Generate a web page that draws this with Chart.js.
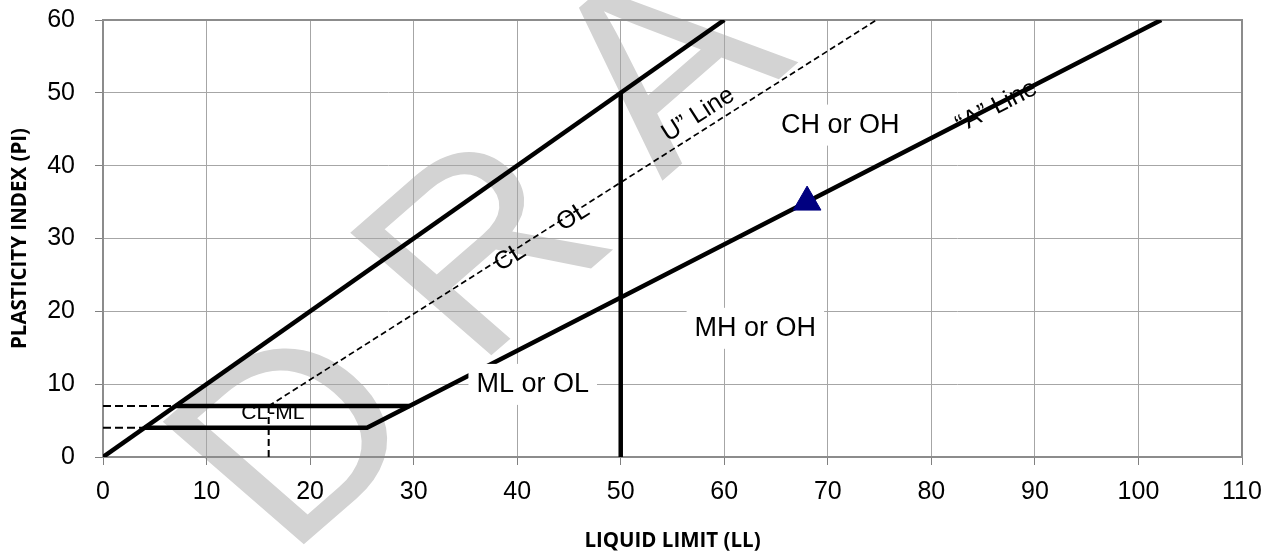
<!DOCTYPE html>
<html>
<head>
<meta charset="utf-8">
<script src="https://cdn.jsdelivr.net/npm/chart.js@4.4.1/dist/chart.umd.min.js"></script>
<style>
  html, body { margin: 0; padding: 0; background: #fff; }
  #wrap { width: 1275px; height: 556px; }
</style>
</head>
<body>
<div id="wrap"><canvas id="chart" width="1275" height="556"></canvas></div>
<script>
// Axis ticks
const xTicks = [0, 10, 20, 30, 40, 50, 60, 70, 80, 90, 100, 110];
const yTicks = [0, 10, 20, 30, 40, 50, 60];

// Boundary lines of the plasticity chart (LL, PI)
const diagonalLL = [0, 60];
const diagonalPI = [0, 60];

const aLineLL = [4, 25.5, 29.6, 102.2];   // PI=4 floor then "A" line
const aLinePI = [4, 4, 7, 60];

const topBandLL = [7, 29.6];              // PI=7 band limit
const topBandPI = [7, 7];

const ll50LL = [50, 50];
const ll50PI = [0, 50];

const uLineLL = [16, 74.7];
const uLinePI = [7, 60];

// dashed guides
const guide7LL = [0, 7];
const guide7PI = [7, 7];
const guide4LL = [0, 4];
const guide4PI = [4, 4];
const guide16LL = [16, 16];
const guide16PI = [0, 7];

// sample point
const sampleLL = [68];
const samplePI = [35];

// zone labels (boxed)
const zoneNames = ['CH or OH', 'MH or OH', 'ML or OL'];
const zoneLL = [71.2, 63.0, 41.5];
const zonePI = [45.5, 17.6, 9.9];

// labels running along a line
const lineLabels = ['U\u201D Line', 'CL', 'OL', '\u201CA\u201D Line'];
const lineLabelLL = [57.5, 39.3, 45.4, 86.3];
const lineLabelPI = [47.0, 27.4, 33.0, 48.1];
const lineLabelOn = ['u', 'u', 'u', 'a'];

const watermark = 'DRAFT';

const pts = (xs, ys) => xs.map((x, i) => ({ x, y: ys[i] }));

const solid = (label, xs, ys) => ({
    label, data: pts(xs, ys), showLine: true, borderColor: '#000', borderWidth: 4.5,
    pointRadius: 0, order: 2, borderCapStyle: 'butt', borderJoinStyle: 'miter'
});
const dashed = (label, xs, ys, dash, w) => ({
    label, data: pts(xs, ys), showLine: true, borderColor: '#000', borderWidth: w,
    borderDash: dash, pointRadius: 0, order: 2
});

const angleOf = (chart, xs, ys, i) => {
    const sx = chart.scales.x, sy = chart.scales.y;
    const dx = sx.getPixelForValue(xs[i + 1]) - sx.getPixelForValue(xs[i]);
    const dy = sy.getPixelForValue(ys[i + 1]) - sy.getPixelForValue(ys[i]);
    return Math.atan2(dy, dx);
};

// Watermark behind everything (rotated, slightly squashed, spaced letters)
const watermarkPlugin = {
    id: 'watermark',
    beforeDraw(chart) {
        const ctx = chart.ctx;
        ctx.save();
        ctx.fillStyle = '#d3d3d3';
        ctx.font = '290px "Liberation Sans", Arial, sans-serif';
        ctx.textAlign = 'left';
        ctx.textBaseline = 'alphabetic';
        let ox = 287, oy = 559;
        for (const ch of watermark) {
            ctx.save();
            ctx.translate(ox, oy);
            ctx.scale(1, 0.87);
            ctx.rotate(-Math.PI / 4);
            ctx.fillText(ch, 0, 0);
            ctx.restore();
            ox += 187.5;
            oy -= 189;
        }
        ctx.restore();
    }
};

// Plot frame and small CL-ML label under the lines
const framePlugin = {
    id: 'frame',
    beforeDatasetsDraw(chart) {
        const { ctx, chartArea: a } = chart;
        const sx = chart.scales.x, sy = chart.scales.y;
        ctx.save();
        ctx.strokeStyle = '#8c8c8c';
        ctx.lineWidth = 2;
        ctx.strokeRect(a.left, a.top, a.right - a.left, a.bottom - a.top);
        ctx.fillStyle = '#000';
        ctx.font = '21px "Liberation Sans", Arial, sans-serif';
        ctx.textAlign = 'center';
        ctx.textBaseline = 'middle';
        ctx.fillText('CL-ML', sx.getPixelForValue(16.4), sy.getPixelForValue(6.0));
        ctx.restore();
    }
};

// Zone labels and line labels
const labelPlugin = {
    id: 'labels',
    afterDatasetsDraw(chart) {
        const ctx = chart.ctx;
        const sx = chart.scales.x, sy = chart.scales.y;
        ctx.save();
        ctx.textAlign = 'center';
        ctx.textBaseline = 'middle';
        ctx.font = '27px "Liberation Sans", Arial, sans-serif';
        zoneNames.forEach((t, i) => {
            const px = sx.getPixelForValue(zoneLL[i]);
            const py = sy.getPixelForValue(zonePI[i]);
            const w = ctx.measureText(t).width;
            ctx.fillStyle = '#fff';
            ctx.fillRect(px - w / 2 - 8, py - 21, w + 16, 41);
            ctx.fillStyle = '#000';
            ctx.fillText(t, px, py);
        });
        ctx.font = '25px "Liberation Sans", Arial, sans-serif';
        const uAng = angleOf(chart, uLineLL, uLinePI, 0);
        const aAng = angleOf(chart, aLineLL, aLinePI, 2);
        lineLabels.forEach((t, i) => {
            ctx.save();
            ctx.translate(sx.getPixelForValue(lineLabelLL[i]), sy.getPixelForValue(lineLabelPI[i]));
            ctx.rotate(lineLabelOn[i] === 'u' ? uAng : aAng);
            ctx.fillStyle = '#000';
            ctx.fillText(t, 0, 0);
            ctx.restore();
        });
        ctx.restore();
    }
};

const tickFont = { family: '"Liberation Sans", Arial, sans-serif', size: 25 };
const titleFont = { family: '"Open Sans", sans-serif', size: 20.5, weight: 'bold' };

new Chart(document.getElementById('chart'), {
    type: 'scatter',
    data: {
        datasets: [
            {
                label: 'Sample', data: pts(sampleLL, samplePI), pointStyle: 'triangle',
                pointRadius: 16, backgroundColor: '#000080', borderColor: '#000080',
                borderWidth: 1, order: 0
            },
            solid('Diagonal', diagonalLL, diagonalPI),
            solid('A Line', aLineLL, aLinePI),
            solid('PI 7', topBandLL, topBandPI),
            solid('LL 50', ll50LL, ll50PI),
            dashed('U Line', uLineLL, uLinePI, [6, 3.5], 1.7),
            dashed('Guide 7', guide7LL, guide7PI, [8, 4], 2),
            dashed('Guide 4', guide4LL, guide4PI, [8, 4], 2),
            dashed('Guide 16', guide16LL, guide16PI, [7, 4], 2)
        ]
    },
    options: {
        responsive: false,
        animation: false,
        devicePixelRatio: 1,
        layout: { padding: { top: 20, right: 33, bottom: 0, left: 0 } },
        plugins: {
            legend: { display: false },
            tooltip: { enabled: false }
        },
        scales: {
            x: {
                type: 'linear', min: 0, max: 110,
                afterBuildTicks: s => { s.ticks = xTicks.map(v => ({ value: v })); },
                afterFit: s => { s.height = 99; },
                ticks: { font: tickFont, color: '#000', padding: 12, maxRotation: 0 },
                grid: { color: '#a6a6a6', lineWidth: 1, tickLength: 8, tickColor: '#808080' },
                border: { display: true, color: '#868686', width: 2 },
                title: {
                    display: true, text: 'LIQUID LIMIT (LL)', font: titleFont, color: '#000',
                    padding: { top: 0, bottom: 3 }
                }
            },
            y: {
                type: 'linear', min: 0, max: 60,
                afterBuildTicks: s => { s.ticks = yTicks.map(v => ({ value: v })); },
                afterFit: s => { s.width = 103; s.paddingTop = 0; s.paddingBottom = 0; },
                ticks: { font: tickFont, color: '#000', padding: 20 },
                grid: { color: '#a6a6a6', lineWidth: 1, tickLength: 8, tickColor: '#808080' },
                border: { display: true, color: '#868686', width: 2 },
                title: {
                    display: true, text: 'PLASTICITY INDEX (PI)', font: titleFont, color: '#000',
                    padding: { top: 8, bottom: 0 }
                }
            }
        }
    },
    plugins: [watermarkPlugin, framePlugin, labelPlugin]
});
</script>
</body>
</html>
